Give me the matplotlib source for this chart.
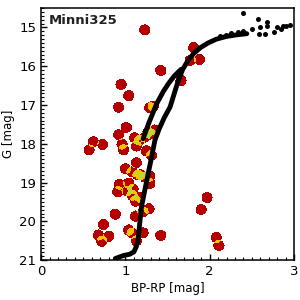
import numpy as np
import matplotlib
matplotlib.use("Agg")
import matplotlib.pyplot as plt
from matplotlib.colors import ListedColormap, BoundaryNorm
from matplotlib.ticker import MultipleLocator

# cluster members (BP-RP, G)
mem_bprp = [1.23, 0.95, 1.04, 0.92, 1.01, 0.92, 0.62, 0.73, 0.57, 0.96, 0.98,
            1.11, 1.17, 1.13, 1.23, 1.27, 1.30, 1.29, 1.33, 1.81, 1.77, 1.88,
            1.42, 1.66, 1.25, 1.13, 1.00, 1.08, 1.15, 1.18, 1.23, 1.29, 1.31,
            0.93, 1.04, 0.91, 1.02, 1.09, 1.08, 1.12, 1.17, 1.29, 1.28, 1.12,
            0.88, 1.21, 0.74, 1.04, 1.08, 1.21, 0.68, 0.80, 0.72, 1.13, 1.42,
            1.97, 1.90, 2.08, 2.11, 1.35]
mem_g = [15.06, 16.47, 16.76, 17.06, 17.58, 17.77, 17.95, 18.02, 18.16, 18.01, 18.16,
         17.85, 17.91, 18.06, 17.83, 17.70, 17.75, 17.07, 17.03, 15.52, 15.85, 15.83,
         16.11, 16.37, 18.19, 18.49, 18.65, 18.73, 18.81, 18.80, 18.86, 18.84, 18.30,
         19.05, 19.02, 19.24, 19.22, 19.17, 19.33, 19.48, 19.38, 19.03, 19.68, 19.87,
         19.82, 19.76, 20.09, 20.23, 20.31, 20.30, 20.36, 20.39, 20.52, 20.51, 20.37,
         19.39, 19.70, 20.42, 20.63, 17.65]

# isochrone, single-star sequence
iso_bprp = [0.88, 0.98, 1.05, 1.10, 1.13, 1.15, 1.17, 1.19, 1.23, 1.27, 1.31, 1.35,
            1.40, 1.46, 1.53, 1.58, 1.63, 1.68, 1.74, 1.81, 1.89, 1.98, 2.08, 2.20,
            2.32, 2.44]
iso_g = [20.96, 20.88, 20.85, 20.79, 20.65, 20.49, 20.05, 19.63, 19.20, 18.77, 18.35, 17.91,
         17.62, 17.33, 17.05, 16.70, 16.35, 16.08, 15.86, 15.67, 15.52, 15.40, 15.30, 15.23,
         15.19, 15.16]

# isochrone, binary sequence
bin_bprp = [1.21, 1.28, 1.37, 1.45, 1.51, 1.58, 1.66]
bin_g = [17.87, 17.45, 16.97, 16.65, 16.45, 16.25, 16.08]

# bright isochrone points
top_bprp = [2.12, 2.19, 2.25, 2.33, 2.40, 2.50, 2.60, 2.68, 2.68, 2.57, 2.40,
            2.58, 2.66, 2.76, 2.84, 2.91, 2.95, 2.87, 2.80]
top_g = [15.23, 15.19, 15.14, 15.12, 15.08, 15.03, 14.99, 14.97, 14.86, 14.78, 14.63,
         15.17, 15.17, 15.11, 15.05, 14.96, 14.94, 14.95, 14.98]

XMIN, XMAX, GMIN, GMAX = 0.0, 3.0, 14.5, 21.0

fig = plt.figure(figsize=(3, 3), dpi=100)
ax = fig.add_axes([0.137, 0.133, 0.843, 0.84])

# overlap count of member discs -> coloured map
rx, ry = 0.066, 0.143
gx = np.linspace(XMIN, XMAX, 900)
gy = np.linspace(GMIN, GMAX, 900)
X, Y = np.meshgrid(gx, gy)
count = np.zeros_like(X)
for bx, g in zip(mem_bprp, mem_g):
    count += (((X - bx) / rx) ** 2 + ((Y - g) / ry) ** 2) <= 1.0
count = np.ma.masked_where(count == 0, count)
cmap = ListedColormap(['#B40000', '#F8C000', '#A8E048', '#40E0F0', '#0050FF', '#0000B0'])
norm = BoundaryNorm([0.5, 1.5, 2.5, 3.5, 4.5, 5.5, 6.5], cmap.N)
ax.imshow(count, extent=[XMIN, XMAX, GMIN, GMAX], origin='lower', cmap=cmap,
          norm=norm, interpolation='nearest', aspect='auto', zorder=1)

ax.plot(iso_bprp, iso_g, color='black', lw=3.5, solid_capstyle='round',
        solid_joinstyle='round', zorder=3)
ax.plot(bin_bprp, bin_g, color='black', lw=3.5, solid_capstyle='round',
        solid_joinstyle='round', zorder=3)
ax.plot(top_bprp, top_g, 'o', color='black', ms=3.6, mec='none', zorder=3)

ax.set_xlim(XMIN, XMAX)
ax.set_ylim(GMAX, GMIN)
ax.xaxis.set_major_locator(MultipleLocator(1))
ax.xaxis.set_minor_locator(MultipleLocator(0.1))
ax.yaxis.set_major_locator(MultipleLocator(1))
ax.yaxis.set_minor_locator(MultipleLocator(0.1))
ax.tick_params(which='both', direction='in', top=False, right=False, labelsize=9.5)
ax.tick_params(which='major', length=4, width=1)
ax.tick_params(which='minor', length=2, width=0.8)
for s in ax.spines.values():
    s.set_linewidth(1.1)

ax.set_xlabel('BP-RP [mag]', fontsize=8.5, labelpad=3)
ax.set_ylabel('G [mag]', fontsize=8.5, labelpad=3)
ax.text(0.03, 0.975, 'Minni325', transform=ax.transAxes, fontsize=9.5,
        fontweight='bold', va='top', ha='left', color='#222222')

fig.savefig('out.png', dpi=100)
